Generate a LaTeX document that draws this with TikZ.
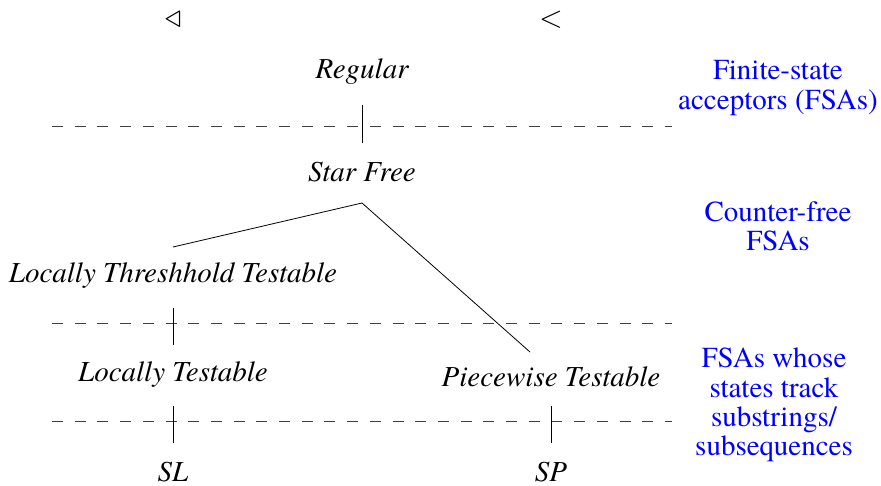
\documentclass[tikz,border=0pt]{standalone}
\usepackage{fontspec}
\setmainfont{texgyretermes}[Extension=.otf, UprightFont=*-regular, ItalicFont=*-italic, BoldFont=*-bold, BoldItalicFont=*-bolditalic]
\begin{document}
\begin{tikzpicture}[x=1pt,y=-1pt,
  cls/.style={font=\fontsize{29}{33}\selectfont\itshape, inner sep=0pt, anchor=center},
  lvl/.style={font=\fontsize{29}{29.3}\selectfont, text=blue, align=center, inner sep=0pt},
  sym/.style={font=\fontsize{20}{24}\selectfont, inner sep=0pt},
  sep/.style={line width=0.8pt, dash pattern=on 11pt off 11.7pt, black!75},
  tick/.style={line width=0.8pt},
  edge/.style={line width=0.8pt}]
\useasboundingbox (0,0) rectangle (881,485);
% top symbols
\node[sym] (s1) at (173,20) {\scalebox{1.6}{$\triangleleft$}};
\node[sym] (s2) at (551,20) {\scalebox{1.5}{$<$}};
% classes
\node[cls] (reg) at (362,72) {Regular};
\node[cls] (sf) at (362,172) {Star Free};
\node[cls] (ltt) at (173,276) {Locally Threshhold Testable};
\node[cls] (lt) at (173,375) {Locally Testable};
\node[cls] (pt) at (551,377) {Piecewise Testable};
\node[cls] (sl) at (173,472) {SL};
\node[cls] (sp) at (551,472) {SP};
% dashed separators
\coordinate (d1a) at (52,126); \coordinate (d1b) at (672,126);
\coordinate (d2a) at (52,323); \coordinate (d2b) at (672,323);
\coordinate (d3a) at (52,421); \coordinate (d3b) at (672,421);
\draw[sep] (d1a) -- (d1b);
\draw[sep] (d2a) -- (d2b);
\draw[sep] (d3a) -- (d3b);
% ticks
\coordinate (t1a) at (362,105); \coordinate (t1b) at (362,143);
\coordinate (t2a) at (173,308); \coordinate (t2b) at (173,345);
\coordinate (t3a) at (173,406); \coordinate (t3b) at (173,443);
\coordinate (t4a) at (551,406); \coordinate (t4b) at (551,443);
\draw[tick] (t1a) -- (t1b);
\draw[tick] (t2a) -- (t2b);
\draw[tick] (t3a) -- (t3b);
\draw[tick] (t4a) -- (t4b);
% branch
\coordinate (top) at (362,203);
\coordinate (le) at (173,247);
\coordinate (re) at (530,352);
\draw[edge] (le) -- (top) -- (re);
% level labels
\node[lvl] (l1) at (778,88) {Finite-state\\acceptors (FSAs)};
\node[lvl] (l2) at (778,226) {Counter-free\\FSAs};
\node[lvl] (l3) at (774,405) {FSAs whose\\states track\\substrings/\\subsequences};
\end{tikzpicture}
\end{document}
